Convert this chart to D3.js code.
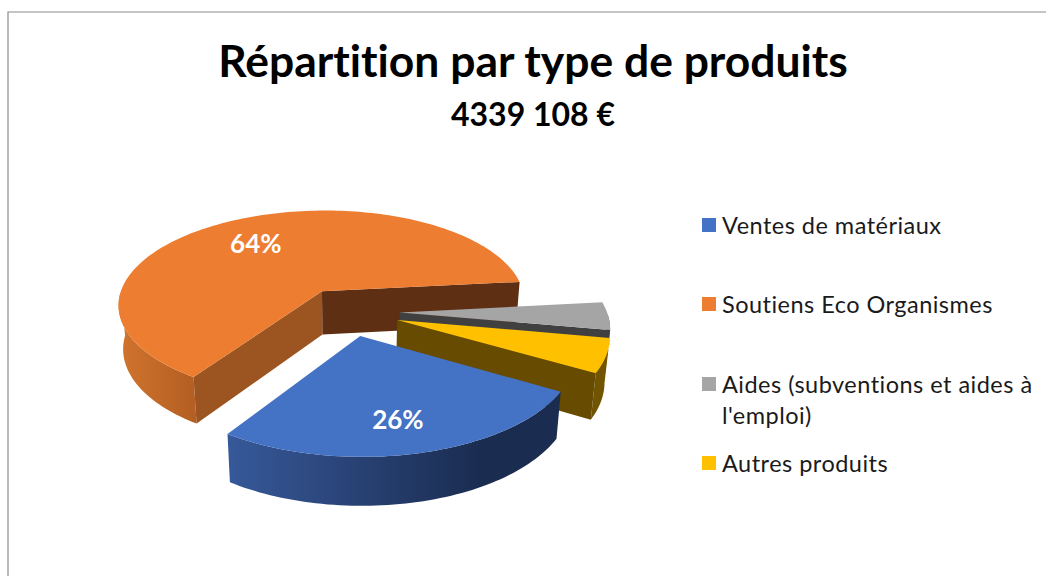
<!DOCTYPE html>
<html>
<head>
<meta charset="utf-8">
<script src="https://cdn.jsdelivr.net/npm/d3@7"></script>
<style>
  html, body { margin: 0; padding: 0; background: #fff; }
  svg { display: block; font-family: Lato, "Open Sans", sans-serif; font-variant-ligatures: none; }
</style>
</head>
<body>
<svg id="chart" width="1046" height="576"></svg>
<script>
const width = 1046, height = 576;

const titre = "Répartition par type de produits";
const sousTitre = "4339 108 €";

const categories = ["Ventes de matériaux", "Soutiens Eco Organismes", "Aides (subventions et aides à l'emploi)", "Autres produits"];
const legendeLignes = [["Ventes de matériaux"], ["Soutiens Eco Organismes"], ["Aides (subventions et aides à", "l'emploi)"], ["Autres produits"]];
const valeurs = [26, 64, 4.5, 5.5];
const couleursDessus = ["#4472c4", "#ed7d31", "#a5a5a5", "#ffc000"];
const couleursLegende = ["#4472c4", "#ed7d31", "#a5a5a5", "#ffc000"];
// cut faces [start edge, end edge], null when the slice hides them
const couleursCoupe = [[null, null], ["#9c5420", "#5f2f13"], [null, "#404040"], [null, "#664b00"]];

// fake 3D: a flat pie tilted, with a little perspective
const cx = 348, cy = 311.5, rx = 207, ry = 97, persp = 0.137;
const eclate = 0.25;
const rotation = 120 * Math.PI / 180;

const pie = d3.pie().sort(null).value(d => d)
    .startAngle(rotation).endAngle(rotation + 2 * Math.PI);
const arcs = pie(valeurs).map((d, i) => ({ ...d, i }));

function point(d, angle, r) {
    const mid = (d.startAngle + d.endAngle) / 2;
    const u = eclate * Math.sin(mid) + r * Math.sin(angle);
    const v = -eclate * Math.cos(mid) - r * Math.cos(angle);
    const p = 1 / (1 - persp * v);
    const x = cx + rx * u * p, y = cy + ry * v * p;
    return { top: [x, y], bottom: [cx + (x - cx) * 0.98, y + 44 + 4 * v], front: Math.cos(angle) <= 0 };
}

function bord(d) {
    const n = Math.ceil((d.endAngle - d.startAngle) * 40);
    return d3.range(n + 1).map(i => point(d, d.startAngle + (d.endAngle - d.startAngle) * i / n, 1));
}

const line = d3.line();
const svg = d3.select("#chart");
const defs = svg.append("defs");

function degrade(id, x1, x2, c1, c2) {
    const g = defs.append("linearGradient").attr("id", id)
        .attr("gradientUnits", "userSpaceOnUse")
        .attr("x1", x1).attr("x2", x2).attr("y1", 0).attr("y2", 0);
    g.append("stop").attr("offset", 0).attr("stop-color", c1);
    g.append("stop").attr("offset", 1).attr("stop-color", c2);
}
degrade("mur0", 226, 480, "#37599a", "#1a2c50");
degrade("mur1", 120, 192, "#d0742e", "#b55f22");
degrade("mur2", 590, 610, "#6e6e6e", "#5a5a5a");
degrade("mur3", 560, 610, "#6a4e00", "#745600");

// cadre
svg.append("path")
    .attr("d", line([[8, height], [8, 12], [width, 12]]))
    .attr("fill", "none").attr("stroke", "#8c8c8c").attr("stroke-width", 1.2);

svg.append("text").attr("x", 533).attr("y", 77).attr("text-anchor", "middle")
    .attr("font-size", 44.4).attr("font-weight", 700).attr("fill", "#000").text(titre);
svg.append("text").attr("x", 533).attr("y", 125.5).attr("text-anchor", "middle")
    .attr("font-size", 32).attr("font-weight", 700).attr("fill", "#000").text(sousTitre);

// back to front
const ordre = [1, 2, 3, 0];
const g = svg.append("g");
ordre.forEach(i => {
    const d = arcs[i];
    const pts = bord(d);
    const mur = pts.filter(p => p.front);
    const centre = point(d, 0, 0);
    const debut = pts[0], fin = pts[pts.length - 1];

    g.append("path")
        .attr("d", line(mur.map(p => p.top).concat(mur.map(p => p.bottom).reverse())) + "Z")
        .attr("fill", "url(#mur" + i + ")");
    [debut, fin].forEach((q, j) => {
        if (!couleursCoupe[i][j]) return;
        g.append("path")
            .attr("d", line([centre.top, q.top, q.bottom, centre.bottom]) + "Z")
            .attr("fill", couleursCoupe[i][j]);
    });
    g.append("path")
        .attr("d", line([centre.top].concat(pts.map(p => p.top))) + "Z")
        .attr("fill", couleursDessus[i]);
});

// only the two big slices carry a label
const rayonEtiquette = [0.74, 0.66];
arcs.filter(d => d.i < 2).forEach(d => {
    const mid = (d.startAngle + d.endAngle) / 2;
    const q = point(d, mid, rayonEtiquette[d.i]).top;
    svg.append("text").attr("x", q[0] - 4).attr("y", q[1] + 10).attr("text-anchor", "middle")
        .attr("font-size", 26).attr("font-weight", 700).attr("fill", "#fff").text(d.value + "%");
});

// legende
const legendeY = d3.scaleOrdinal().domain(categories).range([225, 304, 384, 463]);
const legende = svg.selectAll(".legende").data(categories).join("g")
    .attr("class", "legende")
    .attr("transform", d => "translate(702," + legendeY(d) + ")");
legende.append("rect").attr("x", 0).attr("y", -7).attr("width", 14).attr("height", 14)
    .attr("fill", (d, i) => couleursLegende[i]);
legende.each(function(d, i) {
    d3.select(this).selectAll("text").data(legendeLignes[i]).join("text")
        .attr("x", 20).attr("y", (t, j) => 9 + j * 31)
        .attr("font-size", 23.5).attr("letter-spacing", 0.48).attr("fill", "#1a1a1a").text(t => t);
});
</script>
</body>
</html>
